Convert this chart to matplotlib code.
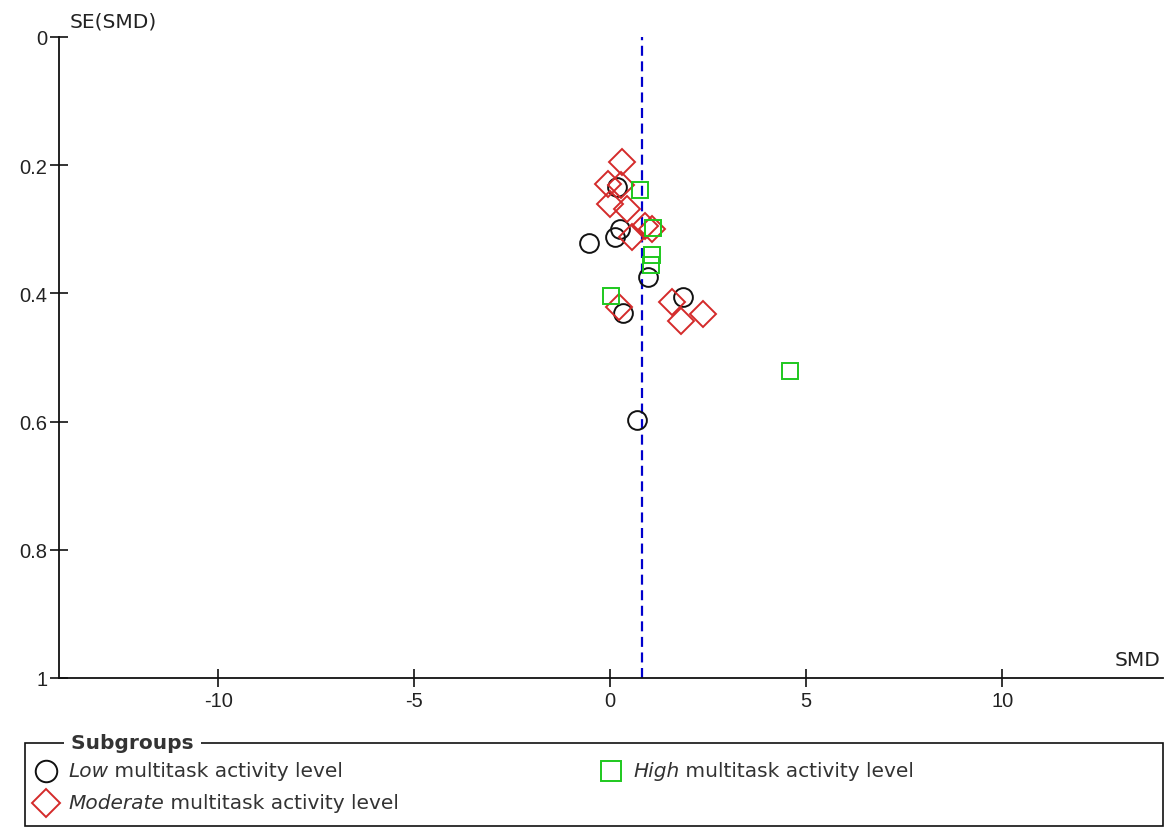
import matplotlib.pyplot as plt
from matplotlib.lines import Line2D
from matplotlib.patches import Rectangle

plt.rcParams['font.family'] = ['Liberation Sans', 'DejaVu Sans']

# SMD, SE(SMD) per subgroup
low_smd = [0.18, 0.26, 0.13, -0.54, 0.97, 1.86, 0.33, 0.69]
low_se = [0.234, 0.300, 0.312, 0.321, 0.374, 0.406, 0.431, 0.598]

mod_smd = [0.31, -0.05, 0.28, 0.0, 0.43, 0.56, 0.89, 1.07, 0.23, 1.58, 1.81, 2.37]
mod_se = [0.195, 0.229, 0.231, 0.261, 0.268, 0.312, 0.295, 0.300, 0.421, 0.413, 0.443, 0.432]

high_smd = [0.77, 1.10, 1.07, 1.05, 0.03, 4.59]
high_se = [0.239, 0.298, 0.340, 0.356, 0.404, 0.521]

pooled = 0.82

xticks = [-10, -5, 0, 5, 10]
yticks = [0, 0.2, 0.4, 0.6, 0.8, 1]

red = '#d42a2a'
green = '#1ec81e'
txt = '#222222'
wide = ['DejaVu Sans']

fig = plt.figure(figsize=(11.68, 8.29), dpi=100)
ax = fig.add_axes([59 / 1168, 1 - 679 / 829, (1163 - 59) / 1168, (679 - 38) / 829])

ax.axvline(pooled, color='#0000cc', lw=1.6, ls=(0, (4.5, 2.5)), zorder=1)

ax.plot(low_smd, low_se, 'o', ms=13.5, mfc='none', mec='#111111', mew=1.4, zorder=3)
ax.plot(mod_smd, mod_se, 'D', ms=13, mfc='none', mec=red, mew=1.4, zorder=3)
ax.plot(high_smd, high_se, 's', ms=12, mfc='none', mec=green, mew=1.4, zorder=3)

ax.set_xlim(-14.06, 14.1)
ax.set_ylim(1, 0)
ax.set_xticks(xticks)
ax.set_xticklabels([str(v) for v in xticks])
ax.set_yticks(yticks)
ax.set_yticklabels(['0', '0.2', '0.4', '0.6', '0.8', '1'])

for s in ['top', 'right']:
    ax.spines[s].set_visible(False)
for s in ['left', 'bottom']:
    ax.spines[s].set_linewidth(1.3)
    ax.spines[s].set_color('#111111')

ax.tick_params(direction='inout', length=13, width=1.2, colors='#111111',
               labelsize=14.5, labelcolor=txt)
ax.tick_params(axis='x', pad=3)
ax.tick_params(axis='y', pad=2)

fig.text(70 / 1168, 1 - 22 / 829, 'SE(SMD)', fontsize=14.5, family=wide, color=txt, va='center', ha='left')
fig.text(1160 / 1168, 1 - 661 / 829, 'SMD', fontsize=14.5, family=wide, color=txt, va='center', ha='right')

# legend box
fig.patches.append(Rectangle((25 / 1168, 1 - 827 / 829), (1163 - 25) / 1168, (827 - 744) / 829,
                             transform=fig.transFigure, fill=False, ec='#111111', lw=1.2))
fig.text(64 / 1168, 1 - 744 / 829, ' Subgroups ', fontsize=14.5, family=wide, fontweight='bold',
         color='#333333', va='center', ha='left',
         bbox=dict(facecolor='white', edgecolor='none', pad=0))

entries = [
    (46, 772, 'o', '#111111', 15.5, 'Low'),
    (46, 804, 'D', red, 14, 'Moderate'),
    (611, 772, 's', green, 14, 'High'),
]
for x, y, m, c, ms, word in entries:
    fig.add_artist(Line2D([x / 1168], [1 - y / 829], marker=m, ms=ms,
                          mfc='none', mec=c, mew=1.4, transform=fig.transFigure))
    t1 = fig.text((x + 22) / 1168, 1 - y / 829, word, fontsize=14.5, family=wide, style='italic',
                  color='#333333', va='center', ha='left')
    fig.add_artist(plt.Annotation(' multitask activity level', xy=(1, 0), xycoords=t1,
                                  fontsize=14.5, family=wide, color='#333333', va='bottom', ha='left'))

fig.savefig('out.png', dpi=100)
